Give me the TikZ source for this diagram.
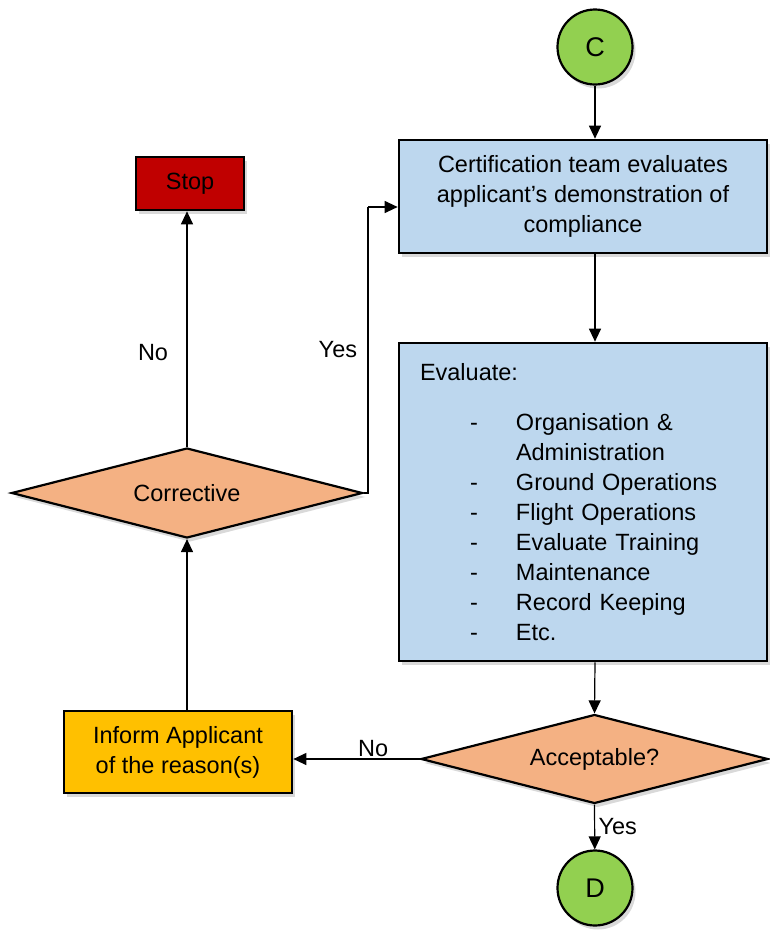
\documentclass[tikz,border=0pt]{standalone}
\usepackage{fontspec}
\setmainfont{Liberation Sans}
\usetikzlibrary{shapes.geometric,arrows.meta,shadows}

\definecolor{conngreen}{HTML}{92D050}
\definecolor{stopred}{HTML}{C00000}
\definecolor{procblue}{HTML}{BDD7EE}
\definecolor{decorange}{HTML}{F4B183}
\definecolor{infoyellow}{HTML}{FFC000}

\tikzset{
  shade/.style={drop shadow={shadow xshift=3pt,shadow yshift=-4pt,opacity=0.3}},
  conn/.style={circle,draw,line width=2.2pt,fill=conngreen,minimum size=75pt,inner sep=0pt,
    font=\fontsize{27}{30}\selectfont,shade},
  proc/.style={rectangle,draw,line width=2.7pt,align=center,inner sep=0pt,shade},
  dec/.style={diamond,draw,line width=2.2pt,fill=decorange,aspect=3.9,inner sep=0pt,shade},
  flow/.style={line width=1.2pt,-{Triangle[length=13pt,width=12pt]}},
}

\begin{document}
\begin{tikzpicture}[x=1pt,y=-1pt,font=\fontsize{23.5}{30}\selectfont]
\useasboundingbox (0,0) rectangle (770,930);

\coordinate (yesbend) at (368, 207);

\node[conn] (c) at (595, 47) {C};
\node[proc, fill=procblue, minimum width=368pt, minimum height=113pt] (cert) at (583, 196.5)
  {Certification team evaluates\\applicant’s demonstration of\\compliance};
\node[proc, fill=procblue, minimum width=368pt, minimum height=318pt,
      text width=326pt, align=left] (eval) at (583, 502)
  {Evaluate:\\[20pt]
   \hspace*{50pt}\makebox[46pt][l]{-}Organisation \&\\
   \hspace*{96pt}Administration\\
   \hspace*{50pt}\makebox[46pt][l]{-}Ground Operations\\
   \hspace*{50pt}\makebox[46pt][l]{-}Flight Operations\\
   \hspace*{50pt}\makebox[46pt][l]{-}Evaluate Training\\
   \hspace*{50pt}\makebox[46pt][l]{-}Maintenance\\
   \hspace*{50pt}\makebox[46pt][l]{-}Record Keeping\\
   \hspace*{50pt}\makebox[46pt][l]{-}Etc.};
\node[dec, minimum width=347pt, minimum height=89pt] (acc) at (594.5, 759) {Acceptable?};
\node[conn] (d) at (595, 888) {D};
\node[proc, fill=infoyellow, minimum width=228pt, minimum height=82pt] (inform) at (178, 752)
  {Inform Applicant\\of the reason(s)};
\node[dec, minimum width=351pt, minimum height=90pt] (corr) at (187, 493) {Corrective};
\node[proc, fill=stopred, minimum width=108pt, minimum height=53pt] (stop) at (190, 183.5) {Stop};

\draw[flow] (c) -- (c |- cert.north);
\draw[flow] (c |- cert.south) -- (c |- eval.north);
\draw[flow] (c |- eval.south) -- (acc.north);
\draw[flow] (acc.south) -- (d) node[midway, right=0pt] {Yes};
\draw[flow] (acc.west) -- (acc.west -| inform.east) node[pos=.37, above, inner sep=2pt] {No};
\draw[flow] (corr.south |- inform.north) -- (corr.south);
\draw[flow] (corr.north) -- (corr.north |- stop.south) node[pos=.4, left=15pt] {No};
\draw[line width=1.2pt] (corr.east) -| (yesbend) node[pos=.75, left=7pt] {Yes};
\draw[flow] (yesbend) -- (yesbend -| cert.west);
\end{tikzpicture}
\end{document}
